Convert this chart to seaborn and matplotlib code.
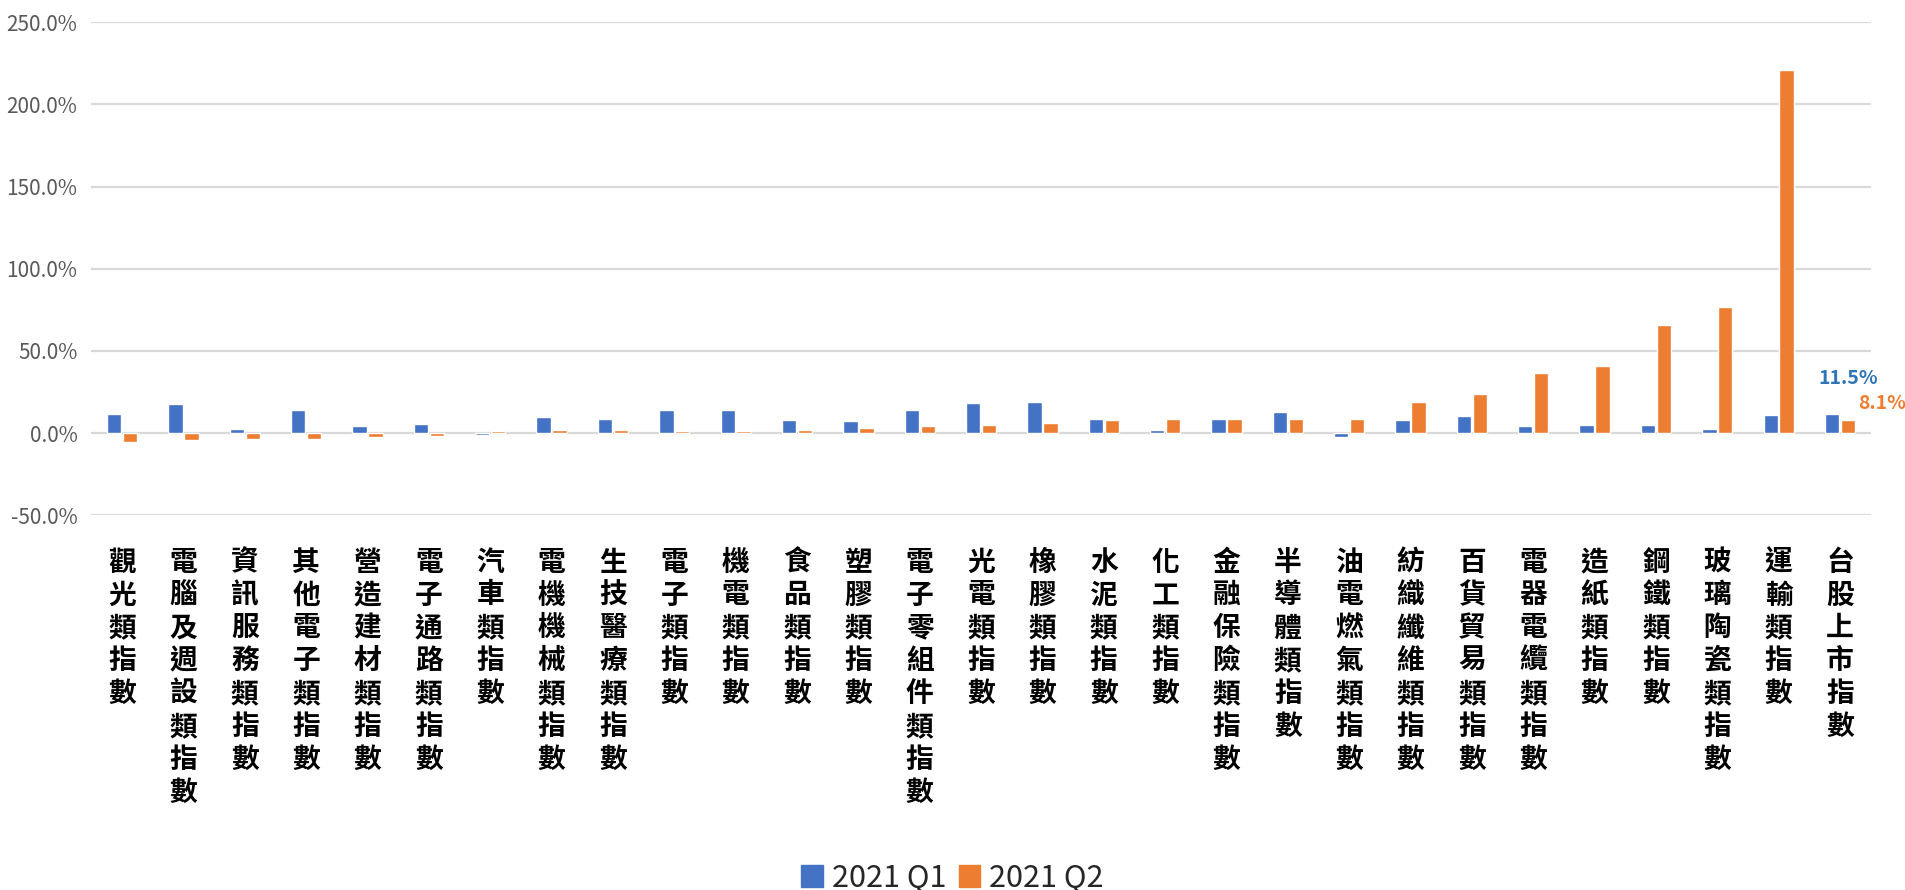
import numpy as np
import pandas as pd
import matplotlib
matplotlib.use('Agg')
import matplotlib.pyplot as plt
import seaborn as sns
from matplotlib.ticker import FuncFormatter

# Data (% change)
categories = ['觀光類指數', '電腦及週設類指數', '資訊服務類指數', '其他電子類指數', '營造建材類指數',
              '電子通路類指數', '汽車類指數', '電機機械類指數', '生技醫療類指數', '電子類指數',
              '機電類指數', '食品類指數', '塑膠類指數', '電子零組件類指數', '光電類指數',
              '橡膠類指數', '水泥類指數', '化工類指數', '金融保險類指數', '半導體類指數',
              '油電燃氣類指數', '紡織纖維類指數', '百貨貿易類指數', '電器電纜類指數', '造紙類指數',
              '鋼鐵類指數', '玻璃陶瓷類指數', '運輸類指數', '台股上市指數']
q1 = [11.5, 17.5, 2.6, 14.1, 4.4, 5.4, -1.0, 9.7, 8.7, 14.1,
      14.1, 7.9, 7.1, 14.1, 18.3, 19.2, 8.7, 1.8, 8.7, 13.1,
      -2.4, 7.9, 10.5, 4.2, 5.2, 5.2, 2.6, 11.3, 11.5]
q2 = [-5.2, -4.4, -3.4, -3.4, -2.6, -1.8, 1.0, 1.8, 1.8, 1.0,
      1.0, 1.8, 3.4, 4.4, 5.2, 6.0, 7.9, 8.7, 8.7, 8.7,
      8.7, 19.2, 23.6, 36.7, 41.1, 65.7, 77.0, 221.0, 8.1]
series_names = ['2021 Q1', '2021 Q2']
yticks = [-50, 0, 50, 100, 150, 200, 250]

BLUE = '#4472C4'
ORANGE = '#ED7D31'

df = pd.DataFrame({
    'category': categories * 2,
    'value': q1 + q2,
    'series': [series_names[0]] * len(categories) + [series_names[1]] * len(categories),
})

sns.set_style('white')
plt.rcParams['font.family'] = ['Noto Sans CJK TC', 'DejaVu Sans']

fig = plt.figure(figsize=(19.05, 8.9), dpi=100)
ax = fig.add_axes([0.048, 0.421, 0.934, 0.554])

sns.barplot(data=df, x='category', y='value', hue='series',
            palette=[BLUE, ORANGE], width=0.52, gap=0.1,
            ax=ax, legend=False, saturation=1)

ax.set_ylim(-50, 250)
ax.set_xlim(-0.5, len(categories) - 0.5)
ax.set_yticks(yticks)
ax.yaxis.set_major_formatter(FuncFormatter(lambda v, p: f'{v:.1f}%'))
ax.grid(axis='y', color='#d9d9d9', linewidth=1.6)
ax.set_axisbelow(True)
for s in ax.spines.values():
    s.set_visible(False)

ax.set_xticks(range(len(categories)))
ax.set_xticklabels(['\n'.join(c) for c in categories], fontsize=20,
                   fontweight='bold', color='black', linespacing=1.22,
                   va='top')
ax.tick_params(axis='x', length=0, pad=24)
ax.tick_params(axis='y', length=0, pad=10, labelsize=15, labelcolor='#595959')
ax.set_xlabel('')
ax.set_ylabel('')

# value labels on the last group
n = len(categories) - 1
ax.annotate(f'{q1[n]:.1f}%', xy=(n, q1[n]), xytext=(6, 26),
            textcoords='offset points', ha='center', va='center',
            color='#2E75B6', fontsize=14, fontweight='bold')
ax.annotate(f'{q2[n]:.1f}%', xy=(n + 0.1, q2[n]), xytext=(26, 12),
            textcoords='offset points', ha='center', va='center',
            color=ORANGE, fontsize=14, fontweight='bold')

handles = [plt.Rectangle((0, 0), 1, 1, color=BLUE),
           plt.Rectangle((0, 0), 1, 1, color=ORANGE)]
fig.legend(handles, series_names, loc='lower center', bbox_to_anchor=(0.5, -0.035),
           ncol=2, frameon=False, fontsize=22, handlelength=0.7, handleheight=0.7,
           handletextpad=0.3, columnspacing=0.4)

fig.savefig('out.png', dpi=100, facecolor='white')
